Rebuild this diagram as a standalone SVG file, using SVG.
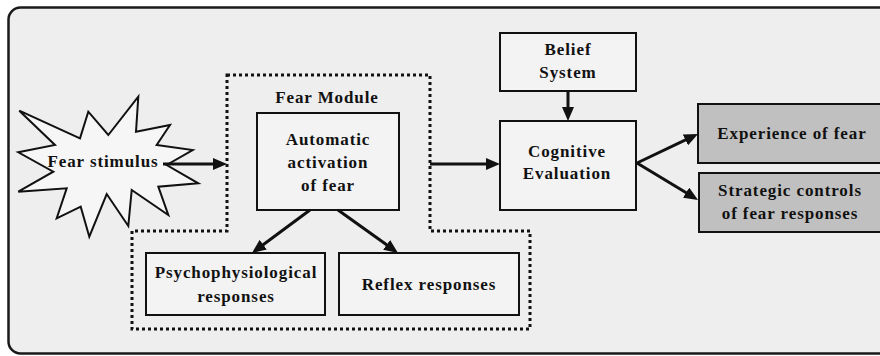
<svg xmlns="http://www.w3.org/2000/svg" width="880" height="356" viewBox="0 0 880 356">
<style>
text{font-family:'Liberation Serif','DejaVu Serif','Times New Roman',serif;font-weight:bold;font-size:17px;letter-spacing:0.9px;fill:#111;text-anchor:middle}
.box{fill:#f3f3f3;stroke:#111;stroke-width:2}
.grey{fill:#c0c0c0;stroke:#111;stroke-width:2}
.conn{fill:none;stroke:#111;stroke-width:3;marker-end:url(#ah)}
</style>
<defs>
<marker id="ah" markerUnits="userSpaceOnUse" markerWidth="14" markerHeight="12" refX="6" refY="6" orient="auto">
<path d="M0,0 L14,6 L0,12 z" fill="#111"/>
</marker>
</defs>
<rect x="0" y="0" width="880" height="356" fill="#ffffff"/>
<rect id="frame" x="8.5" y="7.5" width="885" height="346" rx="12" fill="#eeeeee" stroke="#1a1a1a" stroke-width="2.5"/>
<g id="fear-module">
<polygon points="227,75 430,75 430,231 530,231 530,329 132,329 132,231 227,231" fill="none" stroke="#111" stroke-width="3" stroke-dasharray="3 3"/>
<text x="327" y="103">Fear Module</text>
</g>
<g id="fear-stimulus">
<polygon points="19.3,110.7 80,138.3 88.3,111.7 108.3,135 138.3,96.7 136,131.7 170,125 156.7,145 192.7,150 166.7,165 198.3,183.3 158.3,186.7 168.3,215 131.7,190 128.3,226 106.7,194 89.3,236.7 80.7,206.7 56.7,218.3 66.7,188.3 18.3,191.7 53.3,171.7 18.3,152.3 55,145" fill="#f6f6f6" stroke="#111" stroke-width="2" stroke-linejoin="miter"/>
<text x="103" y="167">Fear stimulus</text>
</g>
<g id="automatic">
<rect class="box" x="257" y="113" width="142" height="97"/>
<text x="328" y="145">Automatic</text>
<text x="328" y="168">activation</text>
<text x="328" y="191">of fear</text>
</g>
<g id="psycho">
<rect class="box" x="146" y="253" width="179" height="62"/>
<text x="236" y="278">Psychophysiological</text>
<text x="236" y="302">responses</text>
</g>
<g id="reflex">
<rect class="box" x="339" y="253" width="180" height="62"/>
<text x="429" y="290">Reflex responses</text>
</g>
<g id="belief">
<rect class="box" x="500" y="33" width="136" height="58"/>
<text x="568" y="55">Belief</text>
<text x="568" y="78">System</text>
</g>
<g id="cognitive">
<rect class="box" x="500" y="121" width="136" height="89"/>
<text x="567" y="157">Cognitive</text>
<text x="567" y="179">Evaluation</text>
</g>
<g id="experience">
<rect class="grey" x="698" y="104" width="200" height="59"/>
<text x="792" y="139">Experience of fear</text>
</g>
<g id="strategic">
<rect class="grey" x="699" y="173" width="200" height="59"/>
<text x="790" y="196">Strategic controls</text>
<text x="790" y="219">of fear responses</text>
</g>
<g id="connectors">
<path class="conn" d="M163,164 L219,164"/>
<path class="conn" d="M430,164 L492,164"/>
<path class="conn" d="M568,91 L568,113"/>
<path class="conn" d="M637,163 L690.8,137.4"/>
<path class="conn" d="M637,163 L691.2,195.8"/>
<path class="conn" d="M310,210 L258.4,248.2"/>
<path class="conn" d="M338,210 L391.5,248.3"/>
</g>
</svg>
